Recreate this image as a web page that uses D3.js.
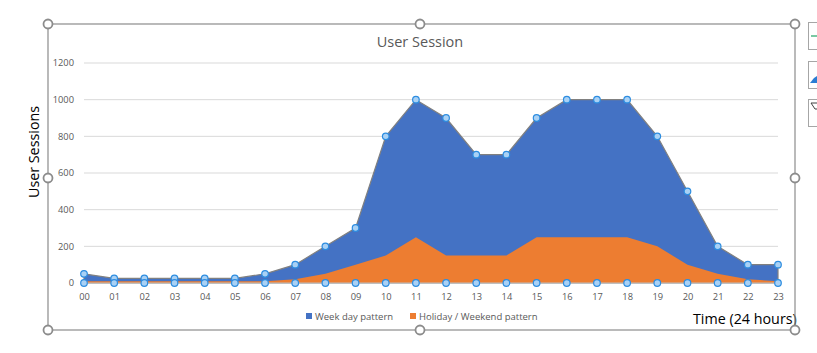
<!DOCTYPE html>
<html>
<head>
<meta charset="utf-8">
<script src="https://cdn.jsdelivr.net/npm/d3@7"></script>
<style>
  body { margin: 0; background: white; }
  text { font-family: "Open Sans", "Noto Sans", sans-serif; }
</style>
</head>
<body>
<div id="container"></div>
<script>
let w = 817;
let h = 353;

// hours on the x axis
let hours = ["00","01","02","03","04","05","06","07","08","09","10","11",
             "12","13","14","15","16","17","18","19","20","21","22","23"];

// week day sessions (blue area, selected series)
let weekDay = [50, 25, 25, 25, 25, 25, 50, 100, 200, 300, 800, 1000,
               900, 700, 700, 900, 1000, 1000, 1000, 800, 500, 200, 100, 100];

// holiday / weekend sessions (orange area)
let holiday = [10, 10, 10, 10, 10, 10, 10, 20, 50, 100, 150, 250,
               150, 150, 150, 250, 250, 250, 250, 200, 100, 50, 20, 10];

let yTicks = [0, 200, 400, 600, 800, 1000, 1200];

let seriesNames = ["Week day pattern", "Holiday / Weekend pattern"];
let seriesColors = ["#4472c4", "#ed7d31"];

let viz = d3.select("#container")
  .append("svg")
    .attr("width", w)
    .attr("height", h)
    .style("background-color", "white")
;

// plot area
let plotLeft = 84, plotRight = 778, plotTop = 63, plotBottom = 283;

let xScale = d3.scalePoint().domain(hours).range([plotLeft, plotRight]);
let yScale = d3.scaleLinear().domain([0, 1200]).range([plotBottom, plotTop]);

// gridlines
viz.append("g")
  .selectAll("line").data(yTicks.slice(1)).enter()
  .append("line")
    .attr("x1", plotLeft)
    .attr("x2", plotRight)
    .attr("y1", d => yScale(d))
    .attr("y2", d => yScale(d))
    .attr("stroke", "#d9d9d9")
    .attr("stroke-width", 1)
;

// y axis labels
let yAxis = d3.axisLeft(yScale).tickValues(yTicks).tickFormat(d3.format("d"))
  .tickSize(0).tickPadding(10);
let yg = viz.append("g").attr("transform", "translate(" + plotLeft + ",0)").call(yAxis);
yg.select(".domain").remove();
yg.selectAll("text")
  .attr("fill", "#595959")
  .style("font-size", "9.3px");

// areas
let area = d3.area()
  .x((d, i) => xScale(hours[i]))
  .y0(yScale(0))
  .y1(d => yScale(d));

viz.append("path")
  .datum(weekDay)
  .attr("d", area)
  .attr("fill", seriesColors[0])
  .attr("stroke", "#808080")
  .attr("stroke-width", 1.2)
;

viz.append("path")
  .datum(holiday)
  .attr("d", area)
  .attr("fill", seriesColors[1])
;

// x axis line
viz.append("line")
  .attr("x1", plotLeft).attr("x2", plotRight)
  .attr("y1", yScale(0)).attr("y2", yScale(0))
  .attr("stroke", "#bfbfbf");

let xAxis = d3.axisBottom(xScale).tickSize(0).tickPadding(10);
let xg = viz.append("g").attr("transform", "translate(0," + yScale(0) + ")").call(xAxis);
xg.select(".domain").remove();
xg.selectAll("text")
  .attr("fill", "#595959")
  .style("font-size", "9.3px");

// selection markers for the blue series (top and baseline)
function drawMarkers(cyFn){
  viz.append("g")
    .selectAll("circle").data(weekDay).enter()
    .append("circle")
      .attr("cx", (d, i) => xScale(hours[i]))
      .attr("cy", cyFn)
      .attr("r", 3.3)
      .attr("fill", "#a9d1f5")
      .attr("stroke", "#2d8de0")
      .attr("stroke-width", 1.2)
  ;
}
drawMarkers(d => yScale(d));
drawMarkers(d => yScale(0));

// title
viz.append("text")
  .attr("x", 420)
  .attr("y", 47)
  .attr("text-anchor", "middle")
  .attr("fill", "#595959")
  .style("font-size", "14.5px")
  .text("User Session");

// axis titles
viz.append("text")
  .attr("transform", "translate(39,152) rotate(-90)")
  .attr("text-anchor", "middle")
  .attr("fill", "#000")
  .style("font-size", "14.3px")
  .text("User Sessions");

viz.append("text")
  .attr("x", 693)
  .attr("y", 324)
  .attr("fill", "#000")
  .style("font-size", "14.3px")
  .text("Time (24 hours)");

// legend
let legendX = [306, 410];
let legend = viz.selectAll(".legend").data(seriesNames).enter()
  .append("g")
  .attr("transform", (d, i) => "translate(" + legendX[i] + ",317)");
legend.append("rect")
  .attr("x", 0).attr("y", -4)
  .attr("width", 6).attr("height", 6)
  .attr("fill", (d, i) => seriesColors[i]);
legend.append("text")
  .attr("x", 9).attr("y", 2.5)
  .attr("fill", "#595959")
  .style("font-size", "9.5px")
  .text(d => d);

// chart selection frame and handles
let fx1 = 48, fx2 = 795, fy1 = 24, fy2 = 330;
viz.append("rect")
  .attr("x", fx1).attr("y", fy1)
  .attr("width", fx2 - fx1).attr("height", fy2 - fy1)
  .attr("fill", "none")
  .attr("stroke", "#8c8c8c")
  .attr("stroke-width", 1.2);

let handles = [[fx1, fy1], [420, fy1], [fx2, fy1], [fx1, 178], [fx2, 178],
               [fx1, fy2], [420, fy2], [fx2, fy2]];
viz.selectAll(".handle").data(handles).enter()
  .append("circle")
    .attr("cx", d => d[0])
    .attr("cy", d => d[1])
    .attr("r", 4.5)
    .attr("fill", "white")
    .attr("stroke", "#8c8c8c")
    .attr("stroke-width", 1.8);

// side buttons, cut off by the window edge
let btnY = [22, 61, 99];
viz.selectAll(".btn").data(btnY).enter()
  .append("rect")
    .attr("x", 808.5).attr("y", d => d + 0.5)
    .attr("width", 20).attr("height", 27)
    .attr("fill", "white")
    .attr("stroke", "#a6a6a6");
viz.append("line")
  .attr("x1", 811).attr("x2", 817).attr("y1", 36).attr("y2", 36)
  .attr("stroke", "#21a366").attr("stroke-width", 1.2);
viz.append("path")
  .attr("d", "M810,83 L814,78 L817,76 L817,83 Z")
  .attr("fill", "#2b7cd3");
viz.append("path")
  .attr("d", "M811,103 L817,103 M811,103 L815,109 L817,109")
  .attr("fill", "none")
  .attr("stroke", "#404040");
</script>
</body>
</html>
